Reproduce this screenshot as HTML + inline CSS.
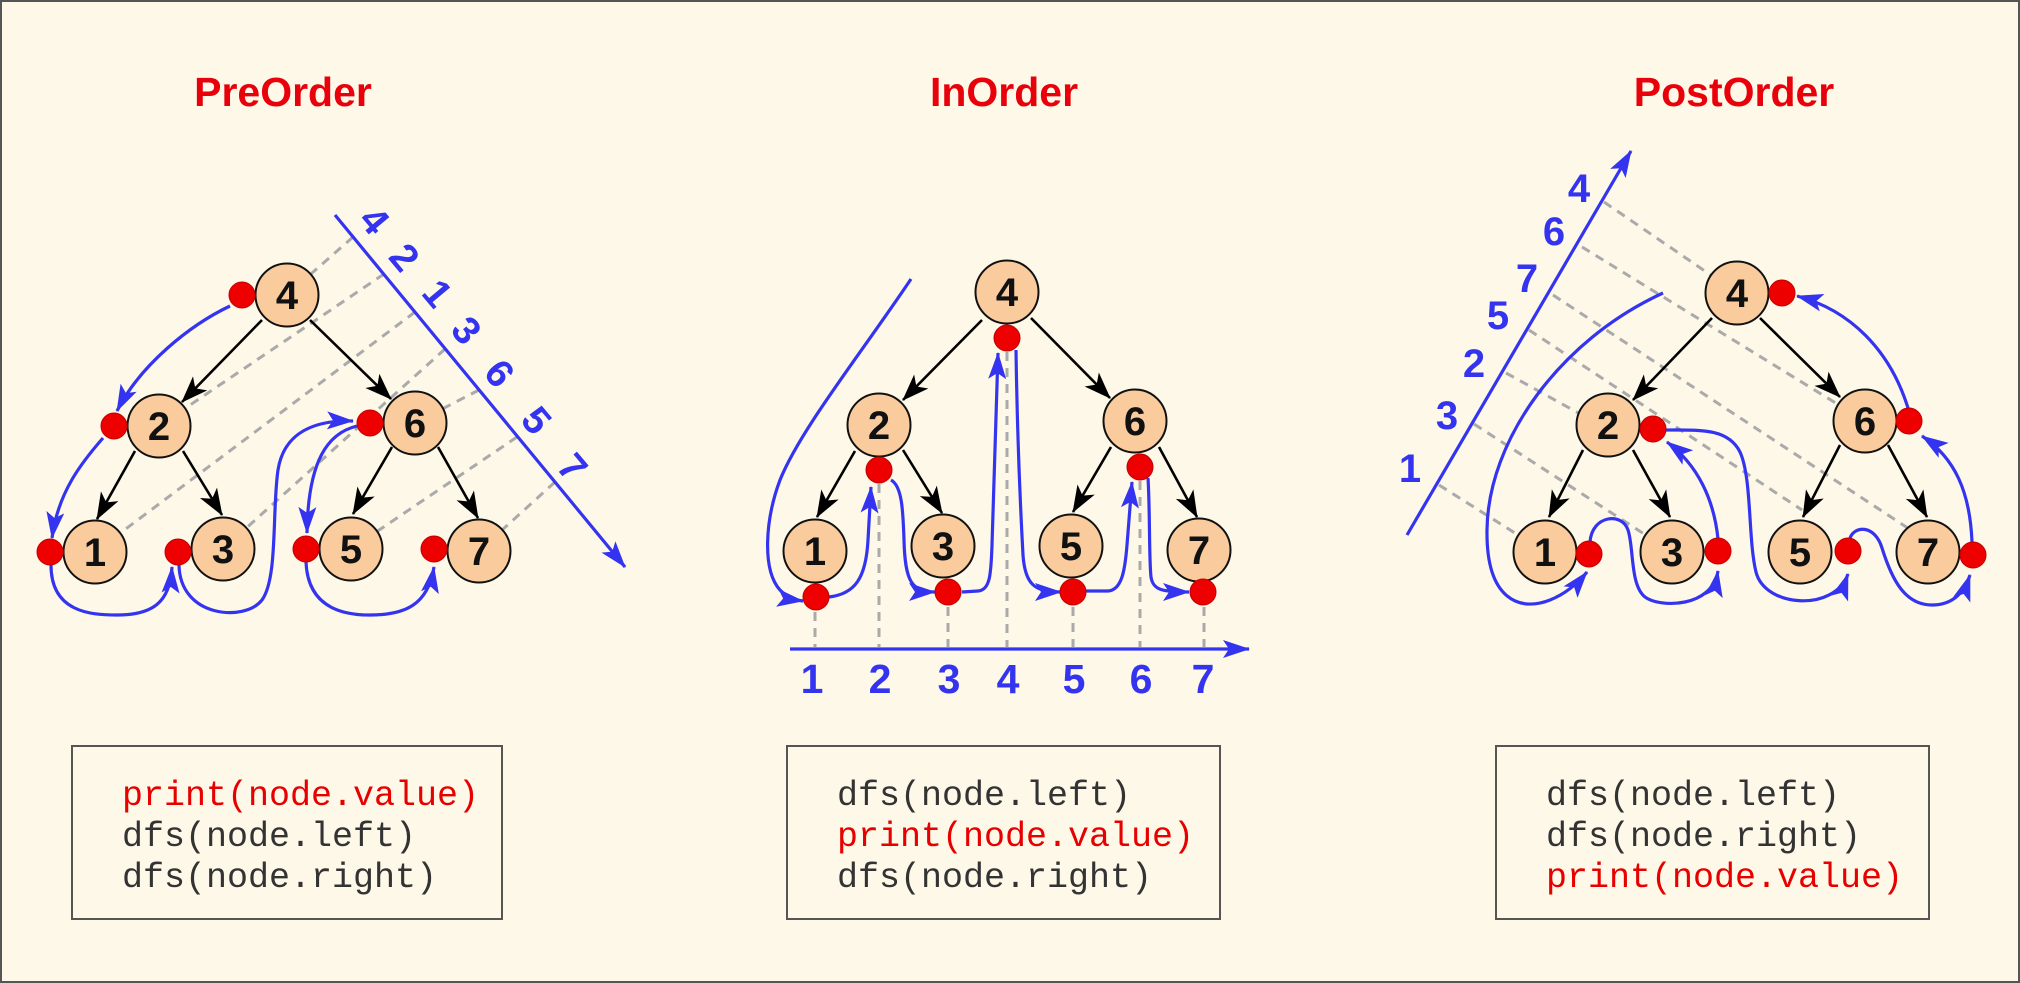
<!DOCTYPE html>
<html>
<head>
<meta charset="utf-8">
<style>
  html, body { margin:0; padding:0; background:#fdf8e8; }
  svg { display:block; }
  .t { font-family:"Liberation Sans", "DejaVu Sans", sans-serif; }
  .m { font-family:"Liberation Mono", "DejaVu Sans Mono", monospace; }
</style>
</head>
<body>
<svg width="2020" height="983" viewBox="0 0 2020 983" xmlns="http://www.w3.org/2000/svg">
  <defs>
    <marker id="ab" markerUnits="userSpaceOnUse" markerWidth="28" markerHeight="20" refX="26" refY="10" orient="auto" viewBox="0 0 28 20">
      <path d="M0,1 L27,10 L0,19 L6,10 z" fill="#3434f0"/>
    </marker>
    <marker id="ak" markerUnits="userSpaceOnUse" markerWidth="28" markerHeight="22" refX="26" refY="11" orient="auto" viewBox="0 0 28 22">
      <path d="M0,1 L27,11 L0,21 L7,11 z" fill="#000"/>
    </marker>
  </defs>

  <rect x="0" y="0" width="2020" height="983" fill="#fdf8e8"/>
  <rect x="1" y="1" width="2018" height="981" fill="none" stroke="#555" stroke-width="2"/>

  <!-- Titles -->
  <g class="t" font-size="41" font-weight="bold" fill="#e8000b" text-anchor="middle">
    <text x="283" y="106">PreOrder</text>
    <text x="1004" y="106">InOrder</text>
    <text x="1734" y="106">PostOrder</text>
  </g>

  <!-- ================= PreOrder ================= -->
  <g stroke="#aaa" stroke-width="3" stroke-dasharray="9,7" fill="none">
    <line x1="353" y1="237" x2="287" y2="295"/>
    <line x1="384" y1="274" x2="159" y2="426"/>
    <line x1="415" y1="312" x2="95" y2="552"/>
    <line x1="445" y1="349" x2="223" y2="549"/>
    <line x1="479" y1="390" x2="415" y2="423"/>
    <line x1="517" y1="437" x2="351" y2="549"/>
    <line x1="555" y1="482" x2="479" y2="551"/>
  </g>
  <line x1="335" y1="215" x2="625" y2="567" stroke="#3434f0" stroke-width="3.2" marker-end="url(#ab)"/>
  <g class="t" font-size="39" font-weight="bold" fill="#3434f0" text-anchor="middle">
    <text x="375" y="234" transform="rotate(50 375 220)">4</text>
    <text x="405" y="271" transform="rotate(50 405 257)">2</text>
    <text x="438" y="307" transform="rotate(50 438 293)">1</text>
    <text x="467" y="344" transform="rotate(50 467 330)">3</text>
    <text x="500" y="387" transform="rotate(50 500 373)">6</text>
    <text x="537" y="434" transform="rotate(50 537 420)">5</text>
    <text x="573" y="481" transform="rotate(50 573 467)">7</text>
  </g>
  <g fill="#f9cb9d" stroke="#111" stroke-width="2">
    <circle cx="287" cy="295" r="31.5"/>
    <circle cx="159" cy="426" r="31.5"/>
    <circle cx="415" cy="423" r="31.5"/>
    <circle cx="95" cy="552" r="31.5"/>
    <circle cx="223" cy="549" r="31.5"/>
    <circle cx="351" cy="549" r="31.5"/>
    <circle cx="479" cy="551" r="31.5"/>
  </g>
  <g stroke="#000" stroke-width="2.6" fill="none" marker-end="url(#ak)">
    <line x1="262" y1="320" x2="182" y2="402"/>
    <line x1="310" y1="320" x2="391" y2="399"/>
    <line x1="135" y1="451" x2="97" y2="519"/>
    <line x1="183" y1="451" x2="222" y2="515"/>
    <line x1="392" y1="447" x2="353" y2="514"/>
    <line x1="438" y1="447" x2="478" y2="518"/>
  </g>
  <g stroke="#3434f0" stroke-width="3.2" fill="none" marker-end="url(#ab)">
    <path d="M230,306 C190,325 140,365 117,411"/>
    <path d="M103,438 C82,462 58,492 52,538"/>
    <path d="M51,565 C51,612 90,615 117,615 C152,615 170,603 172,567"/>
    <path d="M179,565 C180,618 245,622 262,600 C278,578 272,510 278,470 C284,432 315,420 353,421"/>
    <path d="M357,426 C328,433 308,460 307,533"/>
    <path d="M306,562 C308,612 350,615 370,615 C405,615 428,605 434,567"/>
  </g>
  <g fill="#ee0000" stroke="#c00000" stroke-width="1">
    <circle cx="242" cy="295" r="13"/>
    <circle cx="114" cy="426" r="13"/>
    <circle cx="370" cy="423" r="13"/>
    <circle cx="50" cy="552" r="13"/>
    <circle cx="178" cy="552" r="13"/>
    <circle cx="306" cy="549" r="13"/>
    <circle cx="434" cy="549" r="13"/>
  </g>
  <g class="t" font-size="40" font-weight="bold" fill="#111" text-anchor="middle">
    <text x="287" y="309">4</text>
    <text x="159" y="440">2</text>
    <text x="415" y="437">6</text>
    <text x="95" y="566">1</text>
    <text x="223" y="563">3</text>
    <text x="351" y="563">5</text>
    <text x="479" y="565">7</text>
  </g>

  <!-- ================= InOrder ================= -->
  <g stroke="#aaa" stroke-width="3" stroke-dasharray="9,7" fill="none">
    <line x1="815" y1="612" x2="815" y2="647"/>
    <line x1="879" y1="484" x2="879" y2="647"/>
    <line x1="948" y1="607" x2="948" y2="647"/>
    <line x1="1007" y1="352" x2="1007" y2="647"/>
    <line x1="1073" y1="607" x2="1073" y2="647"/>
    <line x1="1140" y1="481" x2="1140" y2="647"/>
    <line x1="1204" y1="607" x2="1204" y2="647"/>
  </g>
  <line x1="790" y1="649" x2="1249" y2="649" stroke="#3434f0" stroke-width="3.2" marker-end="url(#ab)"/>
  <g class="t" font-size="41" font-weight="bold" fill="#3434f0" text-anchor="middle">
    <text x="812" y="693">1</text>
    <text x="880" y="693">2</text>
    <text x="949" y="693">3</text>
    <text x="1008" y="693">4</text>
    <text x="1074" y="693">5</text>
    <text x="1141" y="693">6</text>
    <text x="1203" y="693">7</text>
  </g>
  <g fill="#f9cb9d" stroke="#111" stroke-width="2">
    <circle cx="1007" cy="292" r="31.5"/>
    <circle cx="879" cy="425" r="31.5"/>
    <circle cx="1135" cy="421" r="31.5"/>
    <circle cx="815" cy="551" r="31.5"/>
    <circle cx="943" cy="546" r="31.5"/>
    <circle cx="1071" cy="546" r="31.5"/>
    <circle cx="1199" cy="550" r="31.5"/>
  </g>
  <g stroke="#000" stroke-width="2.6" fill="none" marker-end="url(#ak)">
    <line x1="982" y1="320" x2="903" y2="400"/>
    <line x1="1031" y1="318" x2="1110" y2="398"/>
    <line x1="855" y1="451" x2="817" y2="517"/>
    <line x1="903" y1="450" x2="942" y2="513"/>
    <line x1="1111" y1="447" x2="1073" y2="512"/>
    <line x1="1159" y1="447" x2="1197" y2="517"/>
  </g>
  <g stroke="#3434f0" stroke-width="3.2" fill="none">
    <path d="M911,279 C860,355 800,430 780,480 C765,520 762,570 780,590 C788,598 795,600 803,601" marker-end="url(#ab)"/>
    <path d="M829,597 C855,594 866,578 868,540 L871,487" marker-end="url(#ab)"/>
    <path d="M891,480 C902,486 903,510 904,540 C905,582 912,592 935,592" marker-end="url(#ab)"/>
    <path d="M962,592 L978,591 C990,590 991,575 992,545 L998,353" marker-end="url(#ab)"/>
    <path d="M1016,350 C1017,420 1020,500 1023,555 C1025,585 1035,592 1061,592" marker-end="url(#ab)"/>
    <path d="M1086,591 L1108,591 C1122,590 1125,570 1127,545 L1132,482" marker-end="url(#ab)"/>
    <path d="M1148,478 C1150,510 1149,560 1151,577 C1153,590 1162,592 1189,592" marker-end="url(#ab)"/>
  </g>
  <g fill="#ee0000" stroke="#c00000" stroke-width="1">
    <circle cx="1007" cy="338" r="13"/>
    <circle cx="879" cy="470" r="13"/>
    <circle cx="1140" cy="467" r="13"/>
    <circle cx="816" cy="597" r="13"/>
    <circle cx="948" cy="592" r="13"/>
    <circle cx="1073" cy="592" r="13"/>
    <circle cx="1203" cy="592" r="13"/>
  </g>
  <g class="t" font-size="40" font-weight="bold" fill="#111" text-anchor="middle">
    <text x="1007" y="306">4</text>
    <text x="879" y="439">2</text>
    <text x="1135" y="435">6</text>
    <text x="815" y="565">1</text>
    <text x="943" y="560">3</text>
    <text x="1071" y="560">5</text>
    <text x="1199" y="564">7</text>
  </g>

  <!-- ================= PostOrder ================= -->
  <g stroke="#aaa" stroke-width="3" stroke-dasharray="9,7" fill="none">
    <line x1="1604" y1="202" x2="1737" y2="293"/>
    <line x1="1582" y1="247" x2="1865" y2="421"/>
    <line x1="1553" y1="295" x2="1926" y2="540"/>
    <line x1="1529" y1="330" x2="1802" y2="510"/>
    <line x1="1506" y1="373" x2="1600" y2="425"/>
    <line x1="1474" y1="424" x2="1672" y2="552"/>
    <line x1="1439" y1="485" x2="1545" y2="552"/>
  </g>
  <line x1="1407" y1="535" x2="1631" y2="151" stroke="#3434f0" stroke-width="3.2" marker-end="url(#ab)"/>
  <g class="t" font-size="40" font-weight="bold" fill="#3434f0" text-anchor="middle">
    <text x="1579" y="202">4</text>
    <text x="1554" y="245">6</text>
    <text x="1527" y="292">7</text>
    <text x="1498" y="329">5</text>
    <text x="1474" y="377">2</text>
    <text x="1447" y="429">3</text>
    <text x="1410" y="482">1</text>
  </g>
  <g fill="#f9cb9d" stroke="#111" stroke-width="2">
    <circle cx="1737" cy="293" r="31.5"/>
    <circle cx="1608" cy="425" r="31.5"/>
    <circle cx="1865" cy="421" r="31.5"/>
    <circle cx="1545" cy="552" r="31.5"/>
    <circle cx="1672" cy="552" r="31.5"/>
    <circle cx="1800" cy="552" r="31.5"/>
    <circle cx="1928" cy="552" r="31.5"/>
  </g>
  <g stroke="#000" stroke-width="2.6" fill="none" marker-end="url(#ak)">
    <line x1="1712" y1="318" x2="1633" y2="400"/>
    <line x1="1760" y1="318" x2="1840" y2="397"/>
    <line x1="1583" y1="450" x2="1549" y2="517"/>
    <line x1="1633" y1="450" x2="1670" y2="517"/>
    <line x1="1840" y1="445" x2="1803" y2="517"/>
    <line x1="1888" y1="445" x2="1927" y2="517"/>
  </g>
  <g stroke="#3434f0" stroke-width="3.2" fill="none" marker-end="url(#ab)">
    <path d="M1663,293 C1560,340 1488,440 1487,530 C1486,600 1520,612 1550,600 C1565,594 1578,583 1587,572"/>
    <path d="M1590,542 C1592,515 1622,512 1628,530 C1634,548 1630,585 1645,597 C1660,608 1712,608 1718,571"/>
    <path d="M1718,539 C1714,500 1698,465 1667,442"/>
    <path d="M1665,430 C1700,430 1728,428 1740,452 C1752,478 1748,540 1756,572 C1765,608 1835,612 1848,574"/>
    <path d="M1850,538 C1855,525 1875,525 1882,548 C1892,580 1905,605 1932,605 C1955,605 1965,590 1970,575"/>
    <path d="M1972,542 C1970,492 1955,458 1922,436"/>
    <path d="M1908,408 C1890,350 1850,310 1797,296"/>
  </g>
  <g fill="#ee0000" stroke="#c00000" stroke-width="1">
    <circle cx="1782" cy="293" r="13"/>
    <circle cx="1653" cy="429" r="13"/>
    <circle cx="1909" cy="421" r="13"/>
    <circle cx="1589" cy="554" r="13"/>
    <circle cx="1718" cy="551" r="13"/>
    <circle cx="1848" cy="551" r="13"/>
    <circle cx="1973" cy="555" r="13"/>
  </g>
  <g class="t" font-size="40" font-weight="bold" fill="#111" text-anchor="middle">
    <text x="1737" y="307">4</text>
    <text x="1608" y="439">2</text>
    <text x="1865" y="435">6</text>
    <text x="1545" y="566">1</text>
    <text x="1672" y="566">3</text>
    <text x="1800" y="566">5</text>
    <text x="1928" y="566">7</text>
  </g>

  <!-- ================= Code boxes ================= -->
  <g fill="none" stroke="#555" stroke-width="2">
    <rect x="72" y="746" width="430" height="173"/>
    <rect x="787" y="746" width="433" height="173"/>
    <rect x="1496" y="746" width="433" height="173"/>
  </g>
  <g class="m" font-size="35">
    <text x="122" y="805" fill="#e60000">print(node.value)</text>
    <text x="122" y="846" fill="#333">dfs(node.left)</text>
    <text x="122" y="887" fill="#333">dfs(node.right)</text>

    <text x="837" y="805" fill="#333">dfs(node.left)</text>
    <text x="837" y="846" fill="#e60000">print(node.value)</text>
    <text x="837" y="887" fill="#333">dfs(node.right)</text>

    <text x="1546" y="805" fill="#333">dfs(node.left)</text>
    <text x="1546" y="846" fill="#333">dfs(node.right)</text>
    <text x="1546" y="887" fill="#e60000">print(node.value)</text>
  </g>
</svg>
</body>
</html>
